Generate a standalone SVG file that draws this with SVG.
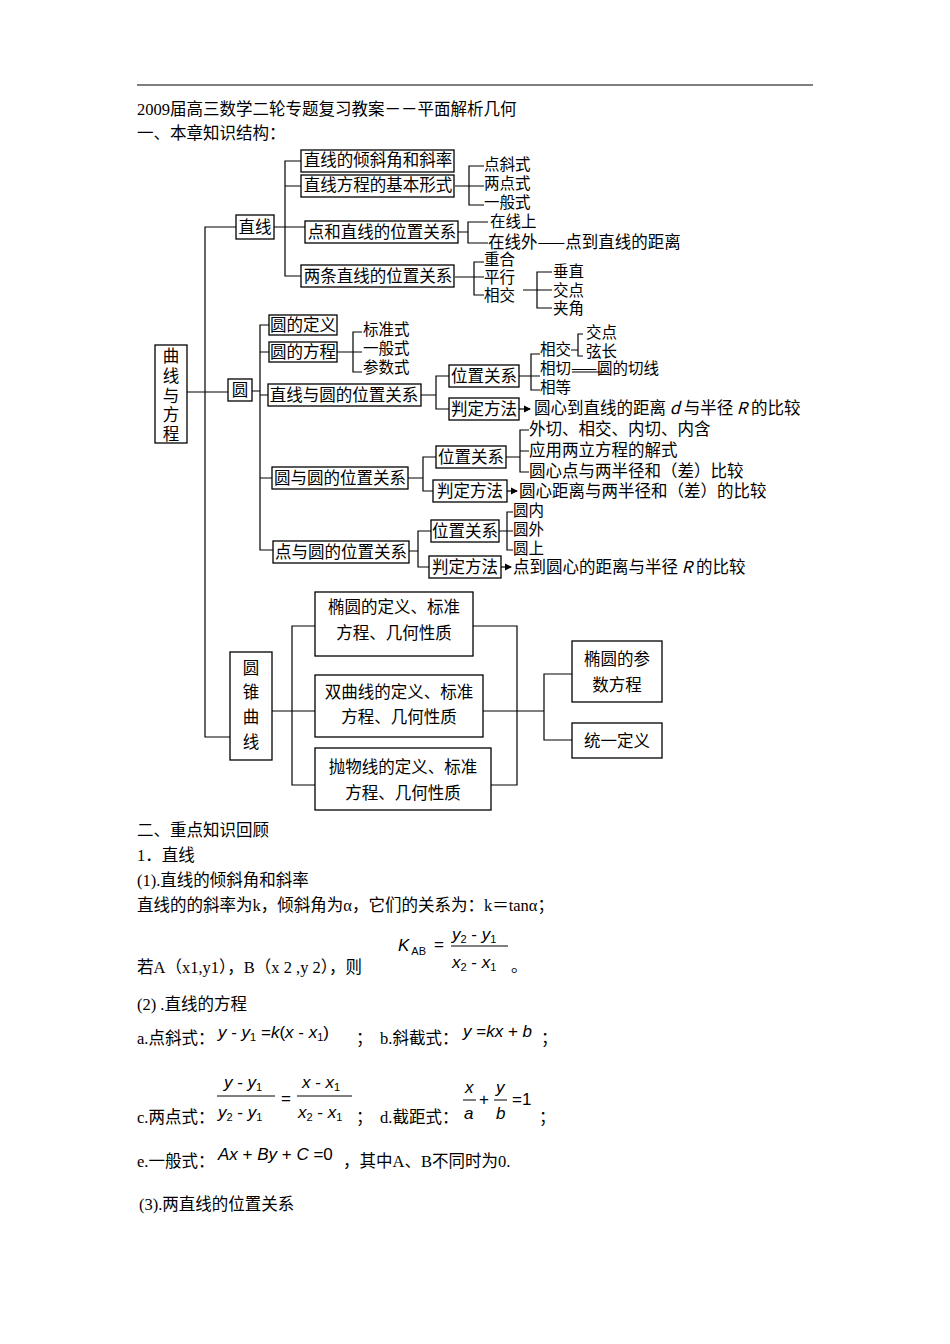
<svg xmlns="http://www.w3.org/2000/svg" width="950" height="1344" viewBox="0 0 950 1344">
<style>
.s{font-family:"Noto Sans CJK SC","Liberation Sans",sans-serif;font-size:16.5px;fill:#000}
.k{font-size:15.5px}
.c{text-anchor:middle}
.t{font-family:"Liberation Serif","Noto Sans CJK SC",serif;font-size:16.5px;fill:#000}
.m{font-family:"Liberation Sans",sans-serif;font-size:17px;font-style:italic;fill:#000}
.m2{font-family:"Liberation Sans",sans-serif;font-size:17px;fill:#000}
.sub{font-size:11px;font-style:normal}
rect{fill:#fff;stroke:#000;stroke-width:1.3}
.l line,.l path{stroke:#000;stroke-width:1.2;fill:none}
</style>
<defs><marker id="a" markerWidth="6" markerHeight="6" refX="5" refY="3" orient="auto"><path d="M0,0L6,3L0,6z" fill="#000"/></marker></defs>
<rect x="0" y="0" width="950" height="1344" style="stroke:none"/>
<line x1="137" y1="85" x2="813" y2="85" stroke="#000" stroke-width="1.2"/>
<text class="t" x="137" y="115">2009届高三数学二轮专题复习教案－－平面解析几何</text>
<text class="t" x="137" y="139">一、本章知识结构：</text>

<g class="l" id="connectors">
<line x1="187" y1="392" x2="228" y2="392"/>
<path d="M236,227H205V737H230"/>
<path d="M301,161H285V276H301M274,227H305M285,186H301"/>
<path d="M455,186H469M484,166H469V205H484M469,186H484"/>
<path d="M458,232H468M488,222H468V243H488"/>
<path d="M455,277H484M484,262H474V295H484"/>
<path d="M523,290H537M552,272H537V308H552M537,290H552"/>
<path d="M252,391H260M269,325H260V550H273M260,352H269M260,395H268M260,478H272"/>
<path d="M337,352H353M362,332H353V372H362M353,352H362"/>
<path d="M421,395H436M449,376H436V409H449"/>
<path d="M519,376H540M540,354H531V390H540"/>
<path d="M583,334H578V356H583M571,350H578"/>
<path d="M572,372H606"/>
<line x1="519" y1="409" x2="530" y2="409" marker-end="url(#a)"/>
<path d="M408,478H423M436,457H423V491H433"/>
<path d="M506,457H520M529,430H520V472H529M520,451H529"/>
<line x1="507" y1="491" x2="517" y2="491" marker-end="url(#a)"/>
<path d="M409,551H418M431,531H418V567H429"/>
<path d="M499,531H513M513,512H507V550H513"/>
<line x1="501" y1="567" x2="511" y2="567" marker-end="url(#a)"/>
<path d="M272,711H292M315,626H292V785H315M292,711H315"/>
<path d="M473,626H517V785H491M483,711H544M572,674H544V740H572"/>
</g>

<g id="n-qxyfc"><rect x="155" y="345" width="32" height="98"/><text class="s c" x="171" y="362">曲</text><text class="s c" x="171" y="382">线</text><text class="s c" x="171" y="402">与</text><text class="s c" x="171" y="421">方</text><text class="s c" x="171" y="440">程</text></g>
<g id="n-zx"><rect x="236" y="215" width="38" height="24"/><text class="s c" x="255" y="233">直线</text></g>
<g id="n-z1"><rect x="301" y="150" width="153" height="22"/><text class="s c" x="378" y="166">直线的倾斜角和斜率</text></g>
<g id="n-z2"><rect x="301" y="175" width="153" height="22"/><text class="s c" x="378" y="191">直线方程的基本形式</text></g>
<g id="n-z3"><rect x="305" y="221" width="153" height="22"/><text class="s c" x="382" y="238">点和直线的位置关系</text></g>
<g id="n-z4"><rect x="301" y="265" width="153" height="22"/><text class="s c" x="378" y="282">两条直线的位置关系</text></g>
<g id="t-z"><text class="s k" x="484" y="170">点斜式</text><text class="s k" x="484" y="189">两点式</text><text class="s k" x="484" y="208">一般式</text>
<text class="s k" x="490" y="227">在线上</text><text class="s" x="488" y="248">在线外——点到直线的距离</text>
<text class="s k" x="484" y="265">重合</text><text class="s k" x="484" y="283">平行</text><text class="s k" x="484" y="301">相交</text>
<text class="s k" x="553" y="277">垂直</text><text class="s k" x="553" y="296">交点</text><text class="s k" x="553" y="314">夹角</text></g>

<g id="n-y"><rect x="228" y="379" width="24" height="22"/><text class="s c" x="240" y="396">圆</text></g>
<g id="n-y1"><rect x="269" y="315" width="68" height="20"/><text class="s c" x="303" y="331">圆的定义</text></g>
<g id="n-y2"><rect x="269" y="342" width="68" height="20"/><text class="s c" x="303" y="358">圆的方程</text></g>
<g id="t-y1"><text class="s k" x="363" y="335">标准式</text><text class="s k" x="363" y="354">一般式</text><text class="s k" x="363" y="373">参数式</text></g>
<g id="n-y3"><rect x="268" y="384" width="153" height="22"/><text class="s c" x="344" y="401">直线与圆的位置关系</text></g>
<g id="n-y3a"><rect x="449" y="365" width="70" height="22"/><text class="s c" x="484" y="382">位置关系</text></g>
<g id="n-y3b"><rect x="449" y="398" width="70" height="22"/><text class="s c" x="484" y="415">判定方法</text></g>
<g id="t-y3"><text class="s k" x="540" y="355">相交</text><text class="s k" x="540" y="374">相切——圆的切线</text><text class="s k" x="540" y="393">相等</text>
<text class="s k" x="586" y="338">交点</text><text class="s k" x="586" y="357">弦长</text>
<text class="s" x="534" y="414">圆心到直线的距离 <tspan font-style="italic">d</tspan> 与半径 <tspan font-style="italic">R</tspan> 的比较</text></g>
<g id="n-y4"><rect x="272" y="467" width="136" height="22"/><text class="s c" x="340" y="484">圆与圆的位置关系</text></g>
<g id="n-y4a"><rect x="436" y="446" width="70" height="22"/><text class="s c" x="471" y="463">位置关系</text></g>
<g id="n-y4b"><rect x="433" y="480" width="74" height="22"/><text class="s c" x="470" y="497">判定方法</text></g>
<g id="t-y4"><text class="s" x="529" y="435">外切、相交、内切、内含</text><text class="s" x="529" y="456">应用两立方程的解式</text><text class="s" x="529" y="477">圆心点与两半径和（差）比较</text>
<text class="s" x="519" y="497">圆心距离与两半径和（差）的比较</text></g>
<g id="n-y5"><rect x="273" y="541" width="136" height="22"/><text class="s c" x="341" y="558">点与圆的位置关系</text></g>
<g id="n-y5a"><rect x="431" y="520" width="68" height="22"/><text class="s c" x="465" y="537">位置关系</text></g>
<g id="n-y5b"><rect x="429" y="556" width="72" height="22"/><text class="s c" x="465" y="573">判定方法</text></g>
<g id="t-y5"><text class="s k" x="513" y="516">圆内</text><text class="s k" x="513" y="535">圆外</text><text class="s k" x="513" y="554">圆上</text>
<text class="s" x="513" y="573">点到圆心的距离与半径 <tspan font-style="italic">R</tspan> 的比较</text></g>

<g id="n-yzqx"><rect x="230" y="652" width="42" height="108"/><text class="s c" x="251" y="674">圆</text><text class="s c" x="251" y="698">锥</text><text class="s c" x="251" y="723">曲</text><text class="s c" x="251" y="748">线</text></g>
<g id="n-ty"><rect x="315" y="592" width="158" height="64"/><text class="s c" x="394" y="613">椭圆的定义、标准</text><text class="s c" x="394" y="639">方程、几何性质</text></g>
<g id="n-sqx"><rect x="315" y="675" width="168" height="62"/><text class="s c" x="399" y="698">双曲线的定义、标准</text><text class="s c" x="399" y="723">方程、几何性质</text></g>
<g id="n-pwx"><rect x="315" y="748" width="176" height="62"/><text class="s c" x="403" y="773">抛物线的定义、标准</text><text class="s c" x="403" y="799">方程、几何性质</text></g>
<g id="n-tycs"><rect x="572" y="641" width="90" height="61"/><text class="s c" x="617" y="665">椭圆的参</text><text class="s c" x="617" y="691">数方程</text></g>
<g id="n-tydy"><rect x="572" y="723" width="90" height="35"/><text class="s c" x="617" y="747">统一定义</text></g>

<g id="body">
<text class="t" x="137" y="836">二、重点知识回顾</text>
<text class="t" x="137" y="861">1．直线</text>
<text class="t" x="137" y="886">(1).直线的倾斜角和斜率</text>
<text class="t" x="137" y="911">直线的的斜率为k，倾斜角为α，它们的关系为：k＝tanα；</text>
<text class="m" x="398" y="951">K<tspan class="sub" dx="2" dy="4">AB</tspan></text>
<text class="m2" x="434" y="950">=</text>
<text class="m" x="452" y="940">y<tspan class="sub" dy="3">2</tspan><tspan dy="-3" font-style="normal"> - </tspan>y<tspan class="sub" dy="3">1</tspan></text>
<line x1="451" y1="946" x2="508" y2="946" stroke="#000"/>
<text class="m" x="452" y="968">x<tspan class="sub" dy="3">2</tspan><tspan dy="-3" font-style="normal"> - </tspan>x<tspan class="sub" dy="3">1</tspan></text>
<text class="t" x="137" y="973">若A（x1,y1），B（x 2 ,y 2），则</text>
<text class="t" x="511" y="972">。</text>
<text class="t" x="137" y="1010">(2) .直线的方程</text>
<text class="t" x="137" y="1044">a.点斜式：</text>
<text class="m" x="218" y="1038">y<tspan font-style="normal"> - </tspan>y<tspan class="sub" dy="3">1</tspan><tspan dy="-3" font-style="normal"> =</tspan>k<tspan font-style="normal">(</tspan>x<tspan font-style="normal"> - </tspan>x<tspan class="sub" dy="3">1</tspan><tspan dy="-3" font-style="normal">)</tspan></text>
<text class="t" x="356" y="1044">；</text>
<text class="t" x="380" y="1044">b.斜截式：</text>
<text class="m" x="463" y="1037">y<tspan font-style="normal"> =</tspan>kx<tspan font-style="normal"> + </tspan>b</text>
<text class="t" x="541" y="1044">；</text>
<text class="m" x="224" y="1088">y<tspan font-style="normal"> - </tspan>y<tspan class="sub" dy="3">1</tspan></text>
<line x1="217" y1="1096" x2="275" y2="1096" stroke="#000"/>
<text class="m" x="218" y="1118">y<tspan class="sub" dy="3">2</tspan><tspan dy="-3" font-style="normal"> - </tspan>y<tspan class="sub" dy="3">1</tspan></text>
<text class="m2" x="281" y="1104">=</text>
<text class="m" x="302" y="1088">x<tspan font-style="normal"> - </tspan>x<tspan class="sub" dy="3">1</tspan></text>
<line x1="297" y1="1096" x2="352" y2="1096" stroke="#000"/>
<text class="m" x="298" y="1118">x<tspan class="sub" dy="3">2</tspan><tspan dy="-3" font-style="normal"> - </tspan>x<tspan class="sub" dy="3">1</tspan></text>
<text class="t" x="137" y="1123">c.两点式：</text>
<text class="t" x="356" y="1123">；</text>
<text class="t" x="380" y="1123">d.截距式：</text>
<text class="m" x="465" y="1093">x</text>
<line x1="463" y1="1100" x2="476" y2="1100" stroke="#000"/>
<text class="m" x="464" y="1119">a</text>
<text class="m2" x="479" y="1105">+</text>
<text class="m" x="496" y="1093">y</text>
<line x1="494" y1="1100" x2="507" y2="1100" stroke="#000"/>
<text class="m" x="496" y="1119">b</text>
<text class="m2" x="512" y="1105">=1</text>
<text class="t" x="539" y="1123">；</text>
<text class="t" x="137" y="1167">e.一般式：</text>
<text class="m" x="218" y="1160">Ax<tspan font-style="normal"> + </tspan>By<tspan font-style="normal"> + </tspan>C<tspan font-style="normal"> =0</tspan></text>
<text class="t" x="343" y="1167">，其中A、B不同时为0.</text>
<text class="t" x="139" y="1210">(3).两直线的位置关系</text>
</g>
</svg>
